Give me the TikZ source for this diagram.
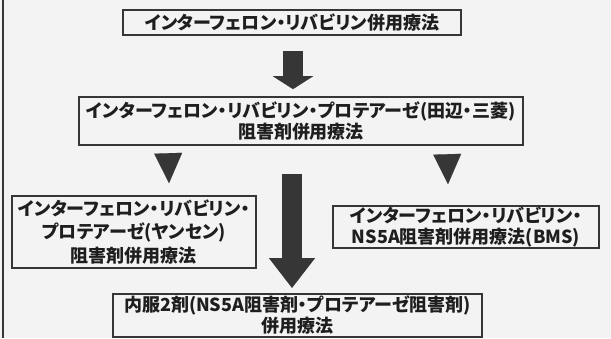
\documentclass[tikz,border=0pt]{standalone}
\usepackage{fontspec}
\newfontfamily\jp{Noto Sans CJK JP}[RawFeature=+palt]
\usetikzlibrary{arrows.meta,calc}
\definecolor{bg}{HTML}{F3F3F3}
\definecolor{ink}{HTML}{363636}
\definecolor{txt}{HTML}{1E1E1E}
\begin{document}
\begin{tikzpicture}[x=1pt,y=-1pt,
  box/.style={draw=ink,line width=1.6pt,inner sep=0pt,align=center,
    text=txt,font=\jp\bfseries\fontsize{18}{21}\selectfont},
  bigarrow/.style={draw=ink,line width=20pt,-{Triangle[width=44pt,length=30pt]}},
  midarrow/.style={draw=ink,line width=20pt,-{Triangle[width=40pt,length=13pt]}},
  tri/.style={draw=ink,line width=0.1pt,-{Triangle[width=28pt,length=30pt]}}
]
\fill[bg] (0,0) rectangle (611,338);
\useasboundingbox (0,0) rectangle (611,338);
\draw[ink,line width=2pt] (3,0) -- (3,338);

\node[box,minimum width=338pt,minimum height=25pt] (b1) at (292,22.5)
  {インターフェロン・リバビリン併用療法};
\node[box,minimum width=444pt,minimum height=48pt] (b2) at (301,121)
  {インターフェロン・リバビリン・プロテアーゼ(田辺・三菱)\\阻害剤併用療法};
\node[box,minimum width=244pt,minimum height=72pt,
  font=\jp\bfseries\fontsize{18}{23.5}\selectfont] (b3) at (134,232)
  {インターフェロン・リバビリン・\\プロテアーゼ(ヤンセン)\\阻害剤併用療法};
\node[box,minimum width=266pt,minimum height=42pt] (b4) at (466,227)
  {インターフェロン・リバビリン・\\NS5A阻害剤併用療法(BMS)};
\node[box,minimum width=369pt,minimum height=43pt] (b5) at (297.5,315.5)
  {内服2剤(NS5A阻害剤・プロテアーゼ阻害剤)\\併用療法};

\coordinate (a1s) at ($(b1.south)+(1,15)$);
\coordinate (a1e) at ($(b2.north)+(-8,-7)$);
\draw[midarrow] (a1s) -- (a1e);

\coordinate (a2s) at ($(b2.south)+(-9,28)$);
\coordinate (a2e) at ($(b5.north)+(-5.5,-5)$);
\draw[bigarrow] (a2s) -- (a2e);

\coordinate (t1s) at ($(b2.south west)+(90,9)$);
\coordinate (t1e) at ($(b3.north)+(35,-12)$);
\draw[tri] (t1s) -- (t1e);

\coordinate (t2s) at ($(b2.south west)+(369,9)$);
\coordinate (t2e) at ($(b4.north)+(-18,-21)$);
\draw[tri] (t2s) -- (t2e);
\end{tikzpicture}
\end{document}
